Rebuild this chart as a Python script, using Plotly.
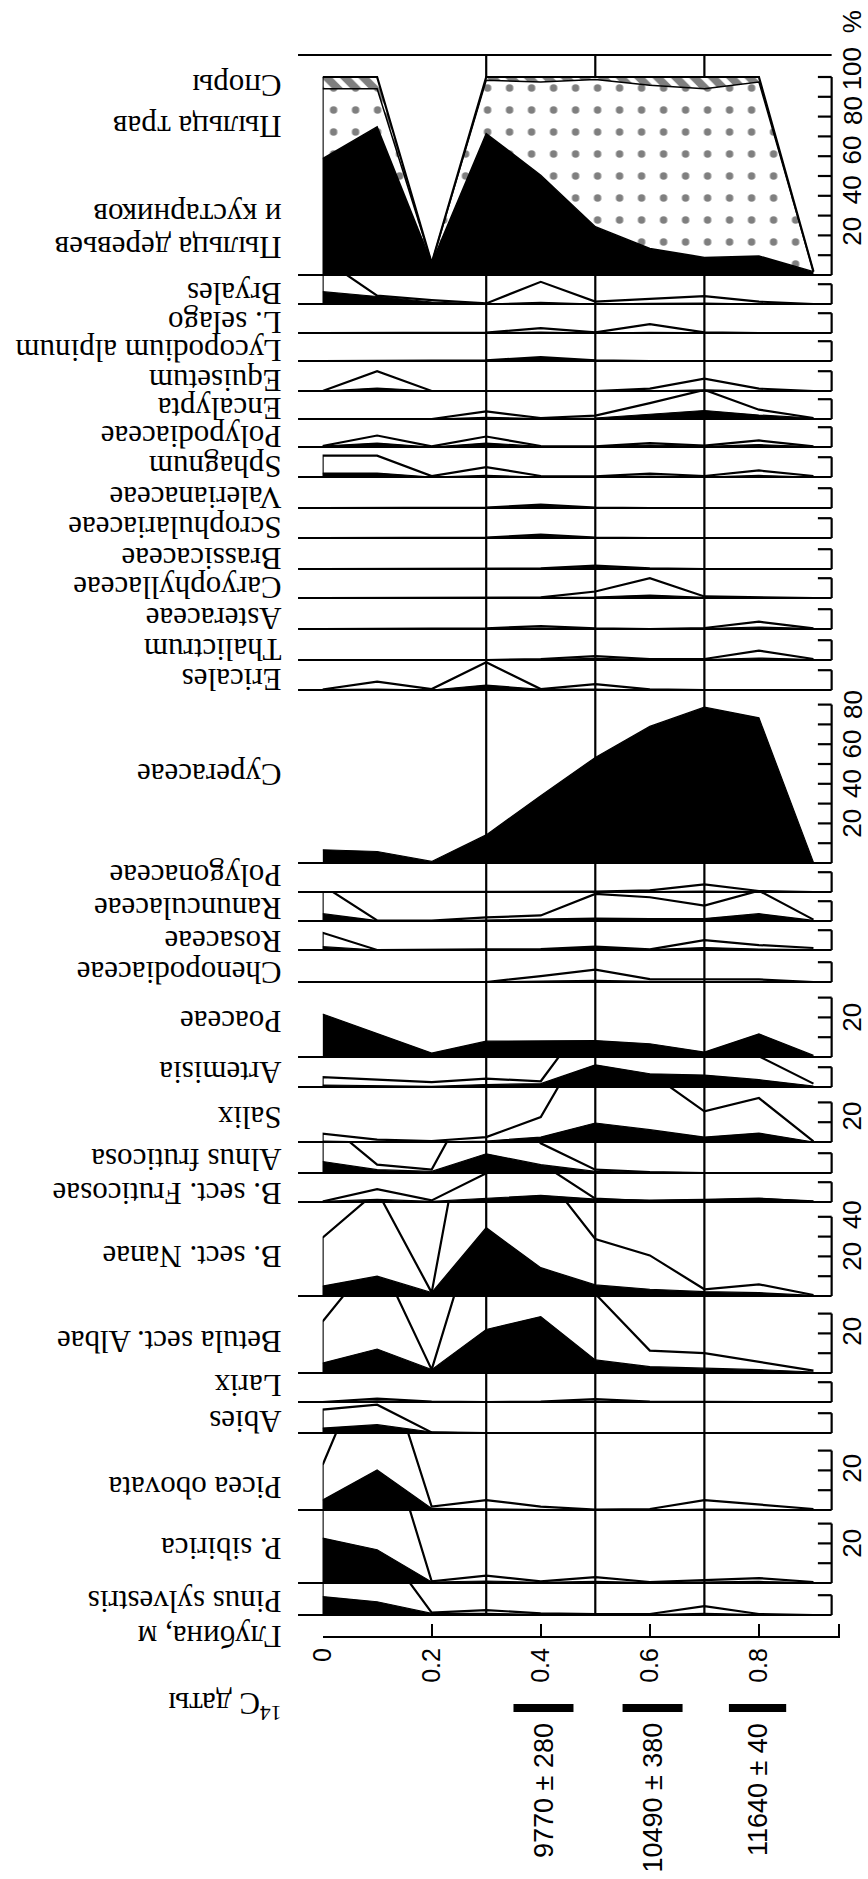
import plotly.graph_objects as go

W, H = 868, 1879
K = 1.98  # px per percent on every strip

depths = [0.0, 0.1, 0.2, 0.3, 0.4, 0.5, 0.6, 0.7, 0.8, 0.9]

# ---- pollen sum diagram (%) ----
trees_shrubs = [58.8, 74.8, 6.0, 71.4, 50.4, 24.4, 13.4, 8.9, 9.6, 1.7]
herbs = [35.3, 19.3, 0.0, 26.9, 47.1, 74.3, 82.4, 85.2, 87.9, 0.0]
spores = [5.9, 5.9, 0.0, 1.7, 2.5, 1.3, 4.2, 5.9, 2.5, 0.0]

# ---- taxa: percentage (black) and exaggerated outline ----
bryales = [6.2, 3.8, 1.0, 0.0, 0.8, 0.0, 0.3, 0.5, 0.0, 0.0]
bryales_x10 = [23.0, 4.2, 2.0, 0.3, 11.2, 1.2, 2.5, 4.0, 1.2, 0.0]
l_selago = [0, 0, 0, 0, 0.5, 0, 0.3, 0, 0, 0]
l_selago_x10 = [0, 0, 0, 0.2, 2.5, 0.3, 4.5, 0.3, 0, 0]
lycopodium = [0, 0, 0, 0.3, 1.5, 0.3, 0, 0, 0, 0]
lycopodium_x10 = [0, 0, 0, 0.3, 2.0, 0.3, 0, 0, 0, 0]
equisetum = [0, 1.5, 0, 0, 0, 0, 0, 0.6, 0, 0]
equisetum_x10 = [0, 10.0, 0, 0, 0, 0, 1.2, 6.2, 1.2, 0]
encalypta = [0, 0, 0, 0.8, 0.2, 0.5, 2.5, 4.3, 2.0, 0.5]
encalypta_x10 = [0, 0, 0, 3.8, 0.5, 1.7, 8.0, 14.7, 4.7, 0.5]
polypodiaceae = [0.5, 2.0, 0, 2.0, 0.3, 0.2, 1.0, 0.3, 1.2, 0.2]
polypodiaceae_x10 = [0.5, 5.8, 0.3, 5.3, 0.5, 0.3, 2.0, 0.7, 3.3, 0.3]
sphagnum = [2.0, 2.0, 0, 0.8, 0, 0, 0.5, 0, 0.8, 0]
sphagnum_x10 = [10.8, 10.8, 0.5, 5.0, 0.5, 0.3, 1.7, 0.5, 3.3, 0.5]
valerianaceae = [0, 0, 0, 0.2, 0.8, 0.2, 0, 0, 0, 0]
valerianaceae_x10 = [0, 0, 0, 0.2, 1.7, 0.2, 0, 0, 0, 0]
scrophulariaceae = [0, 0, 0, 0.2, 0.8, 0.2, 0, 0, 0, 0]
scrophulariaceae_x10 = [0, 0, 0, 0.2, 1.7, 0.2, 0, 0, 0, 0]
brassicaceae = [0, 0, 0, 0, 0.2, 0.8, 0.2, 0, 0, 0]
brassicaceae_x10 = [0, 0, 0, 0, 0.3, 1.7, 0.3, 0, 0, 0]
caryophyllaceae = [0, 0, 0, 0.2, 0.2, 0.5, 1.5, 0.3, 0.2, 0]
caryophyllaceae_x10 = [0, 0, 0.2, 0.2, 0.3, 3.3, 10.0, 0.8, 0.3, 0]
asteraceae = [0, 0, 0, 0.2, 0.5, 0.2, 0, 0.2, 1.0, 0.2]
asteraceae_x10 = [0, 0, 0, 0.3, 1.5, 0.3, 0, 0.5, 3.7, 0.3]
thalictrum = [0, 0, 0, 0, 0.2, 0.8, 0.2, 0.2, 1.0, 0.2]
thalictrum_x10 = [0, 0, 0, 0, 0.5, 2.0, 0.5, 0.5, 4.7, 0.5]
ericales = [0.2, 0.5, 0, 2.5, 0.3, 0.5, 0, 0, 0, 0]
ericales_x10 = [0.3, 4.2, 0.5, 14.0, 0.5, 3.0, 0.3, 0, 0, 0]
cyperaceae = [6.7, 5.8, 0.8, 14.2, 34.0, 53.3, 69.0, 78.7, 73.3, 0.3]
polygonaceae = [0, 0, 0, 0, 0, 0, 0.2, 0.5, 0.2, 0]
polygonaceae_x10 = [0, 0, 0, 0, 0, 0.2, 0.8, 3.8, 0.5, 0]
ranunculaceae = [3.7, 0.2, 0, 0.5, 0.7, 1.5, 1.2, 1.2, 3.7, 0.3]
ranunculaceae_x10 = [18.0, 0.3, 0.2, 1.8, 2.8, 13.7, 12.0, 7.8, 15.3, 0.7]
rosaceae = [1.7, 0, 0, 0.2, 0.3, 1.2, 0.2, 1.2, 0.5, 0.2]
rosaceae_x10 = [8.7, 0, 0, 0.3, 0.5, 1.7, 0.3, 5.0, 2.5, 1.0]
chenopodiaceae = [0, 0, 0, 0, 0.5, 0.8, 0.3, 0.3, 0.3, 0]
chenopodiaceae_x10 = [0, 0, 0, 0, 3.0, 6.2, 1.5, 1.3, 1.3, 0]
poaceae = [21.7, 12.0, 2.0, 8.0, 8.2, 8.3, 6.7, 2.5, 11.7, 0.8]
artemisia = [1.0, 0.5, 0.3, 1.2, 1.7, 11.2, 6.7, 6.0, 3.7, 0.5]
artemisia_x10 = [5.0, 3.7, 2.5, 4.2, 2.9, 40.0, 40.0, 40.0, 15.5, 1.7]
salix = [0.5, 0, 0, 0.5, 2.5, 9.6, 6.2, 2.5, 4.5, 0]
salix_x10 = [4.2, 1.2, 0.5, 2.5, 12.6, 60.0, 35.0, 15.5, 22.2, 0.3]
alnus = [5.8, 1.7, 0.8, 9.7, 4.2, 0.8, 0.3, 0, 0, 0]
alnus_x10 = [27.0, 4.2, 1.7, 52.0, 15.0, 1.7, 0.5, 0, 0, 0]
fruticosae = [0.3, 1.3, 0.3, 2.0, 3.4, 1.5, 1.0, 1.3, 2.0, 0.3]
fruticosae_x10 = [0.3, 6.5, 0.8, 14.5, 19.6, 1.7, 0.3, 0.8, 1.5, 0.3]
nanae = [5.0, 10.0, 1.7, 34.5, 14.3, 5.6, 3.4, 2.2, 1.7, 0.3]
nanae_x10 = [29.5, 53.0, 1.7, 150.0, 64.0, 28.8, 20.5, 3.4, 5.9, 0.5]
albae = [5.0, 12.1, 1.7, 22.0, 28.5, 6.6, 3.2, 2.5, 1.7, 0.5]
albae_x10 = [26.0, 60.0, 1.7, 92.0, 80.0, 40.0, 11.3, 10.0, 5.6, 1.2]
larix = [0, 0.6, 0, 0, 0, 0.5, 0, 0, 0, 0]
larix_x10 = [0, 1.7, 0.2, 0, 0.2, 1.5, 0.2, 0, 0, 0]
abies = [2.5, 4.2, 0.5, 0, 0, 0, 0, 0, 0, 0]
abies_x10 = [11.8, 14.3, 0.3, 0, 0, 0, 0, 0, 0, 0]
picea = [5.0, 20.2, 0.8, 0.5, 0.3, 0, 0, 0.5, 0.3, 0]
picea_x10 = [22.7, 88.0, 1.7, 5.0, 1.7, 0.2, 0.5, 5.0, 2.9, 0.5]
p_sibirica = [22.7, 16.8, 0.5, 1.0, 0.3, 0.8, 0.2, 0.5, 0.8, 0.2]
p_sibirica_x10 = [60.0, 91.0, 0.8, 3.7, 0.8, 3.0, 0.5, 1.5, 2.5, 0.5]
pinus = [9.3, 6.7, 0.8, 0.8, 0.3, 0.3, 0.2, 0.8, 0.2, 0]
pinus_x10 = [30.0, 38.7, 1.2, 2.5, 0.8, 0.5, 0.5, 4.5, 0.5, 0]

# ---- radiocarbon dates ----
date_labels = ["9770 ± 280", "10490 ± 380", "11640 ± 40"]
date_top = [0.35, 0.55, 0.745]
date_bottom = [0.46, 0.66, 0.85]

zone_bounds = [0.3, 0.5, 0.7]
depth_ticks = [0, 0.2, 0.4, 0.6, 0.8]
depth_ticktext = ["0", "0.2", "0.4", "0.6", "0.8"]

# strips, top to bottom
strips = [
    ("Bryales", bryales, bryales_x10),
    ("L. selago", l_selago, l_selago_x10),
    ("Lycopodium alpinum", lycopodium, lycopodium_x10),
    ("Equisetum", equisetum, equisetum_x10),
    ("Encalypta", encalypta, encalypta_x10),
    ("Polypodiaceae", polypodiaceae, polypodiaceae_x10),
    ("Sphagnum", sphagnum, sphagnum_x10),
    ("Valerianaceae", valerianaceae, valerianaceae_x10),
    ("Scrophulariaceae", scrophulariaceae, scrophulariaceae_x10),
    ("Brassicaceae", brassicaceae, brassicaceae_x10),
    ("Caryophyllaceae", caryophyllaceae, caryophyllaceae_x10),
    ("Asteraceae", asteraceae, asteraceae_x10),
    ("Thalictrum", thalictrum, thalictrum_x10),
    ("Ericales", ericales, ericales_x10),
    ("Cyperaceae", cyperaceae, None),
    ("Polygonaceae", polygonaceae, polygonaceae_x10),
    ("Ranunculaceae", ranunculaceae, ranunculaceae_x10),
    ("Rosaceae", rosaceae, rosaceae_x10),
    ("Chenopodiaceae", chenopodiaceae, chenopodiaceae_x10),
    ("Poaceae", poaceae, None),
    ("Artemisia", artemisia, artemisia_x10),
    ("Salix", salix, salix_x10),
    ("Alnus fruticosa", alnus, alnus_x10),
    ("B. sect. Fruticosae", fruticosae, fruticosae_x10),
    ("B. sect. Nanae", nanae, nanae_x10),
    ("Betula sect. Albae", albae, albae_x10),
    ("Larix", larix, larix_x10),
    ("Abies", abies, abies_x10),
    ("Picea obovata", picea, picea_x10),
    ("P. sibirica", p_sibirica, p_sibirica_x10),
    ("Pinus sylvestris", pinus, pinus_x10),
]

# ---- layout geometry (pixels) ----
SUM_BASE, SUM_TOP = 275, 55
baselines = [304, 333, 361, 391, 419, 447, 477, 508, 538, 569, 598, 629, 660, 690,
             863, 892, 921, 950, 982, 1057, 1087, 1142, 1173, 1202, 1296, 1373,
             1402, 1433, 1510, 1583, 1615]
scale_max = [10] * 14 + [80] + [10] * 4 + [30, 10, 20, 10, 10, 40, 30, 10, 10, 30, 30, 10]
scale_labels = {
    "Cyperaceae": [(20, "20"), (40, "40"), (60, "60"), (80, "80")],
    "Poaceae": [(20, "20")],
    "Salix": [(13, "20")],
    "B. sect. Nanae": [(20, "20"), (41, "40")],
    "Betula sect. Albae": [(21, "20")],
    "Picea obovata": [(21, "20")],
    "P. sibirica": [(20, "20")],
}
name_pos = {"Cyperaceae": 45, "Poaceae": 18, "Salix": 12, "B. sect. Nanae": 20,
            "Betula sect. Albae": 16, "Larix": 8, "Picea obovata": 11,
            "P. sibirica": 17.7, "Pinus sylvestris": 6.5, "Artemisia": 7,
            "Alnus fruticosa": 6.5, "Chenopodiaceae": 4.5, "Polygonaceae": 8,
            "Rosaceae": 4, "Ranunculaceae": 6, "B. sect. Fruticosae": 4, "Abies": 5.5}

X_LEFT, X_RIGHT, X_TICK = 288, 831, 817
X_NAME, X_SCALE = 273, 852
SERIF = "Liberation Serif"
SANS = "Liberation Sans"
LW = 2.2


def py(p):
    return 1 - p / H


def px(p):
    return p / W


fig = go.Figure()
layout = dict(width=W, height=H, margin=dict(l=0, r=0, t=0, b=0),
              paper_bgcolor="white", plot_bgcolor="rgba(0,0,0,0)", showlegend=False)
shapes, annotations = [], []

PAD = 2.0  # px below baseline kept inside each strip


def add_axis(idx, base, top):
    name = "yaxis" if idx == 1 else f"yaxis{idx}"
    layout[name] = dict(domain=[py(base + PAD), py(top)],
                        range=[-PAD / K, (base - top) / K],
                        anchor="x", visible=False, fixedrange=True)
    return "y" if idx == 1 else f"y{idx}"


def add_frame(yref, smax, labels):
    shapes.append(dict(type="line", xref="paper", yref=yref, x0=px(X_LEFT), x1=px(X_RIGHT),
                       y0=0, y1=0, line=dict(color="black", width=LW)))
    shapes.append(dict(type="line", xref="paper", yref=yref, x0=px(X_RIGHT), x1=px(X_RIGHT),
                       y0=0, y1=smax, line=dict(color="black", width=LW)))
    for v in range(10, smax + 1, 10):
        shapes.append(dict(type="line", xref="paper", yref=yref, x0=px(X_TICK), x1=px(X_RIGHT),
                           y0=v, y1=v, line=dict(color="black", width=LW)))
    for pos, txt in labels:
        annotations.append(dict(xref="paper", yref=yref, x=px(X_SCALE), y=pos, text=txt,
                                textangle=-90, showarrow=False, xanchor="center",
                                yanchor="middle",
                                font=dict(family=SANS, size=26, color="black")))


def add_name(yref, pos, txt):
    annotations.append(dict(xref="paper", yref=yref, x=px(X_NAME), y=pos, text=txt,
                            textangle=180, showarrow=False, xanchor="right", yanchor="middle",
                            font=dict(family=SERIF, size=31, color="black")))


# ---- sum diagram ----
ys = add_axis(1, SUM_BASE, SUM_TOP)
fig.add_trace(go.Scatter(x=depths, y=trees_shrubs, stackgroup="sum", mode="lines",
                         line=dict(color="black", width=1.5), fillcolor="black",
                         yaxis=ys, hoverinfo="skip"))
fig.add_trace(go.Scatter(x=depths, y=herbs, stackgroup="sum", mode="lines",
                         line=dict(color="black", width=1.5), fillcolor="white",
                         fillpattern=dict(shape=".", fgcolor="black", bgcolor="white",
                                          size=22, solidity=0.09),
                         yaxis=ys, hoverinfo="skip"))
fig.add_trace(go.Scatter(x=depths, y=spores, stackgroup="sum", mode="lines",
                         line=dict(color="black", width=LW), fillcolor="white",
                         fillpattern=dict(shape="\\", fgcolor="black", bgcolor="white",
                                          size=13, solidity=0.6),
                         yaxis=ys, hoverinfo="skip"))
shapes.append(dict(type="line", xref="x", yref=ys, x0=depths[0], x1=depths[0], y0=0,
                   y1=trees_shrubs[0] + herbs[0] + spores[0], line=dict(color="black", width=LW)))
add_frame(ys, 100, [(22, "20"), (43, "40"), (63, "60"), (83, "80"), (104, "100")])
annotations.append(dict(xref="paper", yref="paper", x=px(X_SCALE), y=py(22), text="%",
                        textangle=-90, showarrow=False, xanchor="center", yanchor="middle",
                        font=dict(family=SANS, size=26, color="black")))
shapes.append(dict(type="line", xref="paper", yref="paper", x0=px(X_LEFT), x1=px(X_RIGHT),
                   y0=py(SUM_TOP), y1=py(SUM_TOP), line=dict(color="black", width=LW)))
add_name(ys, 96, "Споры")
add_name(ys, 74.7, "Пыльца трав")
add_name(ys, 30.3, "и кустарников")
add_name(ys, 13.6, "Пыльца деревьев")

# ---- taxon strips ----
prev = SUM_BASE
for i, ((name, vals, exag), base, smax) in enumerate(zip(strips, baselines, scale_max)):
    yr = add_axis(i + 2, base, prev)
    if exag is not None:
        fig.add_trace(go.Scatter(x=[depths[0]] + depths, y=[0] + exag, mode="lines",
                                 line=dict(color="black", width=LW), yaxis=yr, hoverinfo="skip"))
    fig.add_trace(go.Scatter(x=depths, y=vals, mode="lines", fill="tozeroy", fillcolor="black",
                             line=dict(color="black", width=1.2), yaxis=yr, hoverinfo="skip"))
    add_frame(yr, smax, scale_labels.get(name, []))
    add_name(yr, name_pos.get(name, 5), name)
    prev = base

# ---- zone lines ----
for z in zone_bounds:
    shapes.append(dict(type="line", xref="x", yref="paper", x0=z, x1=z, y0=py(baselines[-1]),
                       y1=py(SUM_TOP), line=dict(color="black", width=LW), layer="below"))

# ---- depth axis ----
x_end = (840 - 313) / 555
layout["xaxis"] = dict(domain=[px(313), px(840)], range=[0, x_end], anchor="free",
                       position=py(1637), showline=True, linecolor="black", linewidth=LW,
                       ticks="inside", ticklen=12, tickwidth=LW, tickcolor="black",
                       tickvals=depth_ticks + [x_end - 0.002], ticktext=depth_ticktext + [""],
                       tickangle=-90, showgrid=False, zeroline=False, fixedrange=True,
                       tickfont=dict(family=SANS, size=25, color="black"))
annotations.append(dict(xref="paper", yref="paper", x=px(X_NAME), y=py(1656), text="Глубина, м",
                        textangle=180, showarrow=False, xanchor="right",
                        font=dict(family=SERIF, size=31, color="black")))
annotations.append(dict(xref="paper", yref="paper", x=px(X_NAME), y=py(1727),
                        text="<sup>14</sup>C даты", textangle=180, showarrow=False, xanchor="right",
                        font=dict(family=SERIF, size=31, color="black")))

# ---- 14C dates ----
for lab, t, b in zip(date_labels, date_top, date_bottom):
    shapes.append(dict(type="line", xref="x", yref="paper", x0=t, x1=b, y0=py(1708), y1=py(1708),
                       line=dict(color="black", width=8)))
    annotations.append(dict(xref="x", yref="paper", x=(t + b) / 2, y=py(1721), text=lab,
                            textangle=-90, showarrow=False, xanchor="center", yanchor="top",
                            font=dict(family=SANS, size=27, color="black")))

layout["shapes"] = shapes
layout["annotations"] = annotations
fig.update_layout(**layout)
fig.write_html("out.html", config={"displayModeBar": False},
               post_script="document.body.style.margin='0';")
